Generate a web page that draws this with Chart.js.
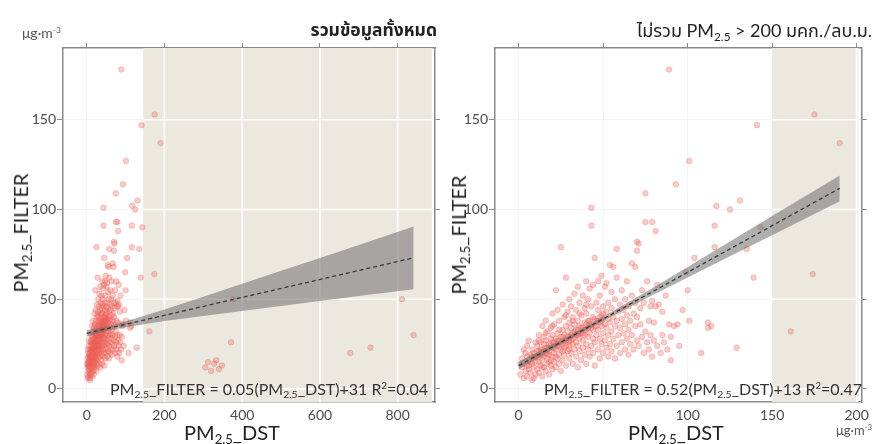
<!DOCTYPE html>
<html>
<head>
<meta charset="utf-8">
<script src="https://cdn.jsdelivr.net/npm/chart.js@4.4.1/dist/chart.umd.min.js"></script>
<style>
  body { margin: 0; background: #fff; }
  #wrap { position: relative; width: 874px; height: 444px; overflow: hidden;
          font-family: Lato, "Noto Sans Thai", "Noto Sans Thai Looped", Loma, Garuda, "Tlwg Typo", Waree, "Noto Sans", sans-serif; color: #222; }
  canvas { position: absolute; top: 0; }
  .lbl { position: absolute; white-space: nowrap; line-height: 1; }
  sub, sup { line-height: 0; }
  sub { font-size: 65%; vertical-align: -0.3em; }
  sup { font-size: 60%; vertical-align: 0.6em; }
  .unit { font-size: 14px; color: #555; }
  .title { font-size: 18px; top: 21px; }
  .eq { font-size: 16px; color: #333; top: 381px; }
  .xt { font-size: 20px; top: 422px; transform: translateX(-50%); }
  .yt { font-size: 20px; transform: translate(-50%, -50%) rotate(-90deg); }
</style>
</head>
<body>
<div id="wrap">
  <canvas id="allData" width="440" height="444" style="left:0"></canvas>
  <canvas id="trimmed" width="434" height="444" style="left:440px"></canvas>

  <div class="lbl unit" style="left:22px; top:26px">μg·m<sup>-3</sup></div>
  <div class="lbl title" style="right:437px; font-weight:bold; font-size:17.5px">รวมข้อมูลทั้งหมด</div>
  <div class="lbl title" style="right:2px">ไม่รวม PM<sub>2.5</sub> &gt; 200 มคก./ลบ.ม.</div>

  <div class="lbl eq" style="right:446px">PM<sub>2.5</sub>_FILTER = 0.05(PM<sub>2.5</sub>_DST)+31 R<sup>2</sup>=0.04</div>
  <div class="lbl eq" style="right:12px">PM<sub>2.5</sub>_FILTER = 0.52(PM<sub>2.5</sub>_DST)+13 R<sup>2</sup>=0.47</div>

  <div class="lbl xt" style="left:232px">PM<sub>2.5</sub>_DST</div>
  <div class="lbl xt" style="left:676px">PM<sub>2.5</sub>_DST</div>
  <div class="lbl unit" style="right:2px; top:424px; font-size:13px">μg·m<sup>-3</sup></div>

  <div class="lbl yt" style="left:20px; top:233px">PM<sub>2.5</sub>_FILTER</div>
  <div class="lbl yt" style="left:458px; top:235px">PM<sub>2.5</sub>_FILTER</div>
</div>

<script>
// PM2.5 readings, [DST sensor, filter reference] in µg/m³
const dstFilterPairs = [
  [1,8],[2,12],[2,17],[3,6],[3,14],[4,10],[4,20],[5,7],[5,13],[5,24],[6,11],[6,16],[7,9],[7,19],
  [8,5],[8,14],[8,22],[9,12],[9,17],[10,8],[10,15],[10,26],[1,14],[3,22],[6,27],[9,6],
  [11,11],[11,18],[11,24],[12,9],[12,15],[12,21],[12,30],[13,13],[13,19],[13,26],[14,7],[14,16],
  [14,22],[14,35],[15,12],[15,18],[15,25],[15,29],[16,10],[16,20],[16,27],[16,38],[17,14],[17,17],
  [17,23],[17,32],[18,8],[18,19],[18,25],[18,21],[19,13],[19,16],[19,28],[19,34],[20,11],[20,18],
  [20,23],[20,30],[20,42],
  [21,15],[21,20],[21,26],[21,36],[22,12],[22,22],[22,28],[22,55],[23,17],[23,24],[23,31],[23,44],
  [24,14],[24,19],[24,27],[24,38],[25,10],[25,22],[25,29],[25,79],[26,16],[26,25],[26,33],[26,47],
  [27,19],[27,23],[27,30],[27,40],[28,13],[28,27],[28,35],[28,62],[29,21],[29,26],[29,32],[29,43],
  [30,17],[30,24],[30,29],[30,37],[30,50],
  [31,20],[31,27],[31,34],[31,46],[32,14],[32,25],[32,31],[32,40],[33,22],[33,29],[33,36],[33,53],
  [34,18],[34,26],[34,33],[34,44],[35,12],[35,24],[35,30],[35,38],[35,57],[36,21],[36,28],[36,35],
  [36,48],[37,16],[37,31],[37,41],[38,23],[38,27],[38,34],[38,52],[39,19],[39,30],[39,37],[39,45],
  [40,14],[40,25],[40,33],[40,42],[40,60],
  [41,22],[41,29],[41,38],[41,50],[42,18],[42,31],[42,36],[42,56],[43,24],[43,34],[43,46],[43,91],
  [43,101],[44,20],[44,28],[44,40],[44,58],[45,13],[45,26],[45,35],[45,73],[46,30],[46,38],[46,48],
  [47,22],[47,33],[47,44],[47,60],[48,17],[48,28],[48,37],[48,52],[49,25],[49,35],[49,41],[49,63],
  [50,20],[50,31],[50,39],[50,46],
  [51,27],[51,36],[51,57],[52,23],[52,34],[52,43],[52,59],[53,18],[53,30],[53,39],[53,48],[54,25],
  [54,37],[54,69],[55,21],[55,32],[55,45],[55,54],[56,28],[56,40],[56,68],[57,17],[57,35],[57,50],
  [58,24],[58,38],[58,78],[58,62],[59,30],[59,43],[60,20],[60,34],[60,47],
  [61,26],[61,39],[61,55],[62,31],[62,44],[63,22],[63,36],[63,50],[64,28],[64,41],[64,60],[65,19],
  [65,33],[65,46],[66,25],[66,38],[67,30],[67,52],[67,70],[68,22],[68,42],[69,35],[69,48],[69,68],
  [70,27],[70,40],[70,77],[70,82],
  [71,24],[71,81],[72,36],[72,45],[73,29],[73,55],[74,20],[74,48],[75,32],[75,93],[75,109],[76,26],
  [76,60],[77,38],[77,22],[78,46],[78,30],[79,18],[79,93],[79,49],[80,27],[80,37],[81,46],[81,88],
  [82,24],[82,58],[83,47],[84,20],[85,43],[85,30],[86,26],[87,52],[88,22],[89,36],[90,16],[90,29],
  [92,35],[93,114],[94,36],[95,24],[97,44],[99,65],[101,38],[101,127],[104,73],[108,20],[112,37],
  [112,34],[114,35],[116,79],[116,91],[117,102],[125,100],[129,23],[131,105],[135,78],[139,62],
  [141,147],[143,90],[161,32],[174,64],[175,153],[190,137],[89,178],[100,55],
  // dense core along the fit
  [4,15],[5,18],[6,13],[7,15],[8,18],[9,20],[10,18],[11,21],[12,18],[13,22],[14,19],[15,21],
  [16,23],[17,20],[18,23],[19,24],[20,26],[21,23],[22,25],[23,27],[24,24],[25,26],[26,29],[27,27],
  [28,24],[29,29],[30,27],[31,30],[32,28],[33,32],[34,30],[35,33],[36,31],[37,34],[38,31],[39,33],
  [40,36],[41,34],[42,38],[43,36],[44,33],[45,39],[46,35],[47,38],[48,40],[49,38],[50,42],[12,27],
  [16,31],[20,35],[24,33],[28,41],[32,38],[36,42],[40,47],[14,12],[18,15],[22,18],[26,21],[30,22],
  // high DST readings
  [305,12],[312,15],[320,10],[328,14],[333,16],[340,11],[348,13],[371,26],[378,50],
  [678,20],[730,23],[811,50],[841,30]
];

// the right panel drops DST readings above this
const trimLimit = 200;

const yTicks = [0, 50, 100, 150];
const xTicksAll = [0, 200, 400, 600, 800];
const xTicksTrim = [0, 50, 100, 150, 200];

// [slope, intercept] of the linear fits
const fitAll = [0.05, 31];
const fitTrim = [0.52, 13];

// confidence band of each fit
const bandAllX = [0, 50, 100, 200, 300, 400, 500, 600, 700, 841];
const bandAllUpper = [32.8, 34.7, 37.6, 44.2, 51.4, 58.6, 65.8, 73, 80.2, 90.5];
const bandAllLower = [29.2, 32.3, 34.4, 37.8, 40.6, 43.4, 46.2, 49, 51.8, 55.5];
const bandTrimX = [0, 25, 50, 75, 100, 125, 150, 190];
const bandTrimUpper = [15.2, 27.3, 40.2, 53.8, 67.9, 82.1, 96.3, 119];
const bandTrimLower = [10.8, 24.7, 37.8, 50.2, 62.1, 73.9, 85.7, 104.6];

// shaded DST range (above 150)
const shadeAll = [145, 888];
const shadeTrim = [150, 201];

const tickFont = { family: "Lato", size: 14 };
const frameColor = "#8a8a8a";

// beige strip with its own white grid, drawn under the points
const shadePlugin = {
  id: "shade",
  beforeDatasetsDraw(chart, args, opts) {
    const { ctx, chartArea } = chart;
    const xs = chart.scales.x;
    const ys = chart.scales.y;
    const left = xs.getPixelForValue(opts.range[0]);
    const right = Math.min(xs.getPixelForValue(opts.range[1]), chartArea.right);
    ctx.save();
    ctx.fillStyle = "#ebe9df";
    ctx.fillRect(left, chartArea.top, right - left, chartArea.bottom - chartArea.top);
    ctx.strokeStyle = "#ffffff";
    ctx.lineWidth = 1.6;
    ctx.beginPath();
    opts.xTicks.forEach((v) => {
      const px = xs.getPixelForValue(v);
      if (px > left && px < right) {
        ctx.moveTo(px, chartArea.top);
        ctx.lineTo(px, chartArea.bottom);
      }
    });
    yTicks.forEach((v) => {
      const py = ys.getPixelForValue(v);
      ctx.moveTo(left, py);
      ctx.lineTo(right, py);
    });
    ctx.stroke();
    ctx.restore();
  },
};

function makePanel(canvasId, cfg) {
  const points = dstFilterPairs
    .filter((p) => p[0] <= cfg.limit)
    .map((p) => ({ x: p[0], y: p[1] }));
  const xEnd = Math.max(...points.map((p) => p.x));
  const [m, b] = cfg.fit;

  const setTicks = (list) => (s) => {
    s.ticks = list.map((v) => ({ value: v }));
  };

  return new Chart(canvasId, {
    type: "scatter",
    data: {
      datasets: [
        {
          data: points,
          pointRadius: 2.8,
          pointBorderWidth: 0.8,
          backgroundColor: "rgba(240,100,90,0.32)",
          borderColor: "rgba(232,90,80,0.34)",
          order: 3,
        },
        {
          type: "line",
          data: cfg.bandX.map((x, i) => ({ x, y: cfg.upper[i] })),
          fill: "+1",
          backgroundColor: "rgba(110,110,110,0.55)",
          borderWidth: 0,
          pointRadius: 0,
          order: 2,
        },
        {
          type: "line",
          data: cfg.bandX.map((x, i) => ({ x, y: cfg.lower[i] })),
          fill: false,
          borderWidth: 0,
          pointRadius: 0,
          order: 2,
        },
        {
          type: "line",
          data: [
            { x: 0, y: b },
            { x: xEnd, y: b + m * xEnd },
          ],
          borderColor: "#3a3a3a",
          borderWidth: 1.3,
          borderDash: [4, 3],
          pointRadius: 0,
          order: 1,
        },
      ],
    },
    options: {
      responsive: false,
      animation: false,
      events: [],
      layout: { padding: 0 },
      plugins: {
        legend: { display: false },
        tooltip: { enabled: false },
        shade: { range: cfg.shade, xTicks: cfg.xTicks },
      },
      scales: {
        x: {
          type: "linear",
          position: "bottom",
          min: cfg.xMin,
          max: cfg.xMax,
          afterBuildTicks: setTicks(cfg.xTicks),
          afterFit: (s) => { s.height = 42; },
          grid: { color: "#f5f5f5", drawTicks: false },
          border: { color: frameColor, width: 1.5 },
          ticks: { font: tickFont, color: "#4d4d4d", padding: 5, maxRotation: 0 },
        },
        xTop: {
          type: "linear",
          position: "top",
          min: cfg.xMin,
          max: cfg.xMax,
          afterBuildTicks: setTicks(cfg.xTicks),
          afterFit: (s) => { s.height = 48; },
          grid: { drawOnChartArea: false, tickLength: 5, tickColor: frameColor },
          border: { color: frameColor, width: 1.5 },
          ticks: { display: false },
        },
        y: {
          type: "linear",
          position: "left",
          min: -7.3,
          max: 190,
          afterBuildTicks: setTicks(yTicks),
          afterFit: (s) => { s.width = cfg.yWidth; },
          grid: { color: "#f5f5f5", tickLength: 6, tickColor: frameColor },
          border: { color: frameColor, width: 1.5 },
          ticks: { font: tickFont, color: "#4d4d4d", padding: 1 },
        },
        yRight: {
          type: "linear",
          position: "right",
          min: -7.3,
          max: 190,
          afterBuildTicks: setTicks(yTicks),
          afterFit: (s) => { s.width = cfg.rightWidth; },
          grid: { drawOnChartArea: false, tickLength: 5, tickColor: frameColor },
          border: { color: frameColor, width: 1.5 },
          ticks: { display: false },
        },
      },
    },
    plugins: [shadePlugin],
  });
}

makePanel("allData", {
  limit: Infinity,
  fit: fitAll,
  bandX: bandAllX,
  upper: bandAllUpper,
  lower: bandAllLower,
  shade: shadeAll,
  xTicks: xTicksAll,
  xMin: -61,
  xMax: 896,
  yWidth: 63,
  rightWidth: 5,
});

makePanel("trimmed", {
  limit: trimLimit,
  fit: fitTrim,
  bandX: bandTrimX,
  upper: bandTrimUpper,
  lower: bandTrimLower,
  shade: shadeTrim,
  xTicks: xTicksTrim,
  xMin: -14,
  xMax: 203,
  yWidth: 55,
  rightWidth: 6,
});
</script>
</body>
</html>
